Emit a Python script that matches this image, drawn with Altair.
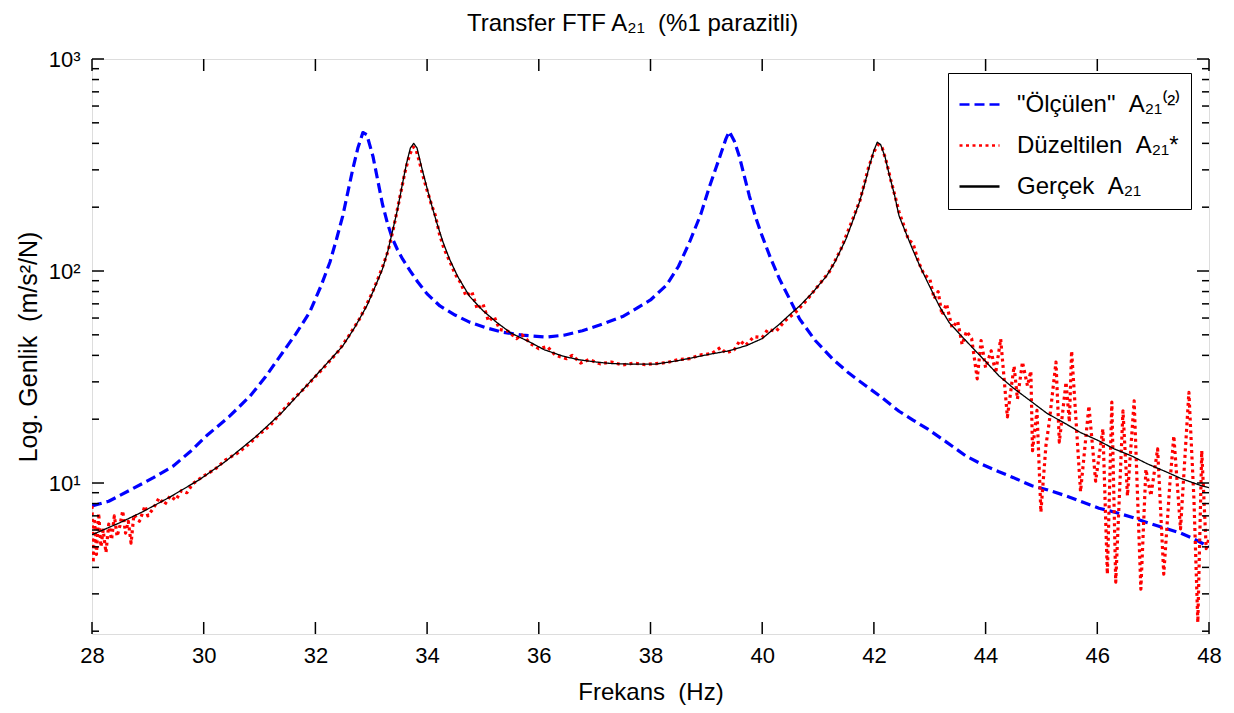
import altair as alt
import pandas as pd

FONT = "Liberation Sans, Arial, sans-serif"
SP2 = " \u00a0"  # double space that survives SVG whitespace collapsing

W, H = 1117, 575

title_text = "Transfer FTF A₂₁" + SP2 + "(%1 parazitli)"
series_names = ['"Ölçülen"' + SP2 + 'A₂₁⁽²⁾', 'Düzeltilen' + SP2 + 'A₂₁*', 'Gerçek' + SP2 + 'A₂₁']
series_colors = ["#0000ff", "#ff0000", "#000000"]
series_dash = [[10, 5], [3, 3.5], [1, 0]]
series_width = [3.2, 3.2, 1.3]

# "Ölçülen" (measured) curve
olc_f = [28.0, 28.3, 28.73, 29.1, 29.45, 29.75, 30.05, 30.45, 30.83, 31.1, 31.42, 31.65,
         31.9, 32.1, 32.26, 32.38, 32.49, 32.58, 32.67, 32.76, 32.85, 32.92, 33.03, 33.12,
         33.2, 33.29, 33.38, 33.47, 33.56, 33.7, 33.83, 34.0, 34.23, 34.5, 34.76, 35.05,
         35.35, 35.7, 36.14, 36.45, 36.78, 37.09, 37.5, 37.68, 38.0, 38.29, 38.5, 38.7,
         38.9, 39.06, 39.17, 39.27, 39.35, 39.41, 39.5, 39.59, 39.68, 39.77, 39.88, 40.0,
         40.15, 40.31, 40.5, 40.67, 40.95, 41.26, 41.55, 41.86, 42.15, 42.45, 42.7, 42.96,
         43.3, 43.65, 43.95, 44.24, 44.5, 44.83, 45.1, 45.44, 45.7, 46.03, 46.3, 46.62,
         46.9, 47.23, 47.5, 47.7, 47.94, 48.0]
olc_v = [7.8, 8.2, 9.4, 10.6, 12.0, 14.0, 16.7, 20.5, 25.7, 31.5, 41.5, 50.5,
         64.1, 85, 110, 142, 182, 235, 303, 380, 450, 440, 348, 265,
         207, 168, 142, 126, 114, 100, 89, 78, 68.4, 62, 57.4, 54,
         51.5, 49.8, 48.8, 49.8, 52.3, 55.6, 61.0, 65.0, 73, 86, 105, 137,
         185, 252, 305, 364, 420, 455, 410, 348, 280, 226, 180, 146,
         115, 91.6, 73, 59.4, 47, 38.5, 33, 28.7, 25.2, 21.8, 19.8, 18.0,
         15.6, 13.4, 12.2, 11.3, 10.6, 9.7, 9.3, 8.7, 8.2, 7.6, 7.3, 6.9,
         6.5, 6.1, 5.8, 5.5, 5.1, 5.0]

# "Düzeltilen" (corrected) curve
duz_f = [28.0, 28.02, 28.05, 28.08, 28.12, 28.16, 28.2, 28.25, 28.3, 28.35, 28.4, 28.45,
         28.5, 28.55, 28.6, 28.65, 28.7, 28.75, 28.85, 28.95, 29.0, 29.1, 29.2, 29.3,
         29.4, 29.5, 29.6, 29.7, 29.8, 30.0, 30.2, 30.4, 30.6, 30.8, 31.0, 31.2,
         31.4, 31.6, 31.8, 32.0, 32.2, 32.4, 32.6, 32.8, 33.0, 33.1, 33.2, 33.3,
         33.4, 33.5, 33.6, 33.68, 33.75, 33.8, 33.86, 33.92, 34.0, 34.08, 34.15, 34.22,
         34.3, 34.4, 34.5, 34.6, 34.7, 34.8, 34.9, 35.0, 35.1, 35.2, 35.3, 35.45,
         35.6, 35.7, 35.85, 36.0, 36.15, 36.3, 36.5, 36.6, 36.75, 36.9, 37.1, 37.3,
         37.5, 37.7, 37.9, 38.1, 38.3, 38.5, 38.7, 38.9, 39.1, 39.25, 39.35, 39.5,
         39.6, 39.7, 39.85, 40.0, 40.1, 40.25, 40.4, 40.6, 40.8, 41.0, 41.2, 41.4,
         41.6, 41.75, 41.9, 42.0, 42.08, 42.15, 42.22, 42.3, 42.38, 42.45, 42.55, 42.62,
         42.7, 42.8, 42.9, 43.0, 43.08, 43.15, 43.22, 43.3, 43.4, 43.5, 43.58, 43.66,
         43.75, 43.85, 43.92, 44.0, 44.1, 44.18, 44.27, 44.39, 44.51, 44.57, 44.66, 44.75,
         44.81, 44.84, 44.92, 44.99, 45.08, 45.14, 45.26, 45.32, 45.44, 45.5, 45.54, 45.7,
         45.85, 45.97, 46.1, 46.18, 46.26, 46.33, 46.46, 46.54, 46.66, 46.78, 46.87, 46.96,
         47.08, 47.19, 47.3, 47.37, 47.49, 47.64, 47.73, 47.8, 47.87, 47.95, 48.0]
duz_v = [7.8, 4.2, 6.6, 4.6, 7.2, 5.0, 6.0, 4.7, 6.4, 5.4, 7.0, 5.6,
         6.3, 7.4, 5.8, 6.6, 5.2, 7.1, 6.6, 7.8, 7.0, 7.6, 8.5, 7.9,
         8.7, 8.3, 9.2, 9.0, 9.9, 10.8, 11.6, 12.9, 13.8, 15.2, 17.0, 18.8,
         21.8, 24.8, 27.9, 31.8, 36.2, 41.5, 49.5, 60, 77, 89, 104, 124,
         160, 215, 290, 350, 385, 375, 330, 285, 240, 205, 182, 150,
         128, 112, 97, 88, 76, 80, 66, 70, 58, 61, 53, 52,
         48, 50, 45.5, 43, 44, 40, 38.6, 40, 36.8, 38.2, 36.5, 37.2,
         36.0, 36.8, 36.2, 36.6, 37.0, 38.2, 38.6, 40.2, 40.8, 43.5, 41.0, 42.5,
         47, 44.5, 49, 48.5, 53, 52, 58, 64, 73, 85, 99, 125,
         170, 215, 305, 365, 395, 380, 330, 270, 225, 190, 160, 140,
         135, 110, 96, 92, 74, 80, 62, 70, 54, 58, 45, 52,
         48, 31, 47, 35, 42, 33, 47.8, 20.5, 35.6, 24.9, 37.2, 28.7,
         33.7, 14.2, 22, 7.3, 15.0, 19.4, 37.2, 15.6, 29.9, 19.4, 42.0, 9.1,
         23.1, 10.2, 18, 3.72, 24.1, 3.41, 21.9, 8.7, 24.4, 3.16, 11.6, 8.7,
         14.5, 3.72, 10, 16.7, 6.07, 26.8, 8.4, 2.2, 14.2, 4.9, 5.5]

# "Gerçek" (true) curve
ger_f = [28.0, 28.5, 28.9, 29.4, 29.93, 30.4, 30.95, 31.4, 31.9, 32.2, 32.49, 32.7,
         32.92, 33.05, 33.2, 33.3, 33.39, 33.47, 33.55, 33.63, 33.7, 33.76, 33.82, 33.9,
         33.99, 34.08, 34.17, 34.28, 34.4, 34.55, 34.76, 35.0, 35.24, 35.5, 35.84, 36.1,
         36.43, 36.7, 37.03, 37.3, 37.62, 38.1, 38.5, 39.06, 39.4, 39.72, 40.0, 40.31,
         40.5, 40.67, 40.9, 41.15, 41.3, 41.5, 41.62, 41.74, 41.84, 41.92, 42.0, 42.06,
         42.12, 42.2, 42.28, 42.37, 42.45, 42.57, 42.69, 42.82, 42.96, 43.17, 43.35, 43.58,
         43.8, 44.01, 44.24, 44.5, 44.83, 45.1, 45.44, 45.7, 46.03, 46.3, 46.62, 46.9,
         47.23, 47.5, 47.87, 48.0]
ger_v = [5.7, 6.5, 7.3, 8.6, 10.4, 12.7, 16.7, 21.5, 29.9, 36.5, 44.3, 54,
         68.4, 82, 102, 125, 158, 195, 251, 320, 380, 400, 380, 310,
         251, 205, 170, 138, 114, 94, 76, 65, 57.4, 51, 46.2, 42.5,
         39.7, 38.2, 37.2, 36.6, 36.4, 36.4, 37.8, 40.5, 42, 44.5, 48, 56.2,
         62.5, 68.4, 79, 94.6, 110, 141.6, 172, 211, 260, 313, 370, 405,
         395, 345, 281, 228, 182, 152, 127, 106, 88.7, 68.4, 57, 49,
         42.5, 37.2, 32, 28, 24.1, 21.3, 19.0, 17.3, 15.8, 14.5, 13.4, 12.3,
         11.3, 10.5, 9.7, 9.5]

x_ticks = [28, 30, 32, 34, 36, 38, 40, 42, 44, 46, 48]
y_major = [10, 100, 1000]
y_minor = [2, 3, 4, 5, 6, 7, 8, 9, 20, 30, 40, 50, 60, 70, 80, 90,
           200, 300, 400, 500, 600, 700, 800, 900]

rows = []
for name, fs, vs in zip(series_names, [olc_f, duz_f, ger_f], [olc_v, duz_v, ger_v]):
    for f, v in zip(fs, vs):
        rows.append({"f": f, "v": v, "s": name})
df = pd.DataFrame(rows)

xscale = alt.Scale(domain=[28, 48], nice=False, zero=False)
yscale = alt.Scale(type="log", domain=[1.94, 1000], nice=False)

leg = alt.Legend(title=None, orient="none", legendX=856, legendY=14, symbolType="stroke",
                 symbolSize=1600, symbolStrokeWidth=2.6, labelFont=FONT, labelFontSize=24,
                 labelColor="black", padding=10, rowPadding=7, labelOffset=16,
                 strokeColor="black", fillColor="white", labelLimit=500, cornerRadius=0)

enc_color = alt.Color("s:N", scale=alt.Scale(domain=series_names, range=series_colors), legend=leg)
enc_dash = alt.StrokeDash("s:N", scale=alt.Scale(domain=series_names, range=series_dash), legend=leg)

x_axis = alt.Axis(values=x_ticks, format="d", grid=False, domain=False, ticks=False,
                  labelFont=FONT, labelFontSize=22, labelColor="black", labelPadding=11,
                  labelFlush=False,
                  title="Frekans" + SP2 + "(Hz)", titleFont=FONT, titleFontSize=24,
                  titleColor="black", titleFontWeight="normal", titleY=65,
                  titleBaseline="alphabetic")
y_axis = alt.Axis(values=y_major, grid=False, domain=False, ticks=False, labelFlush=False,
                  labelExpr="datum.value == 10 ? '10¹' : datum.value == 100 ? '10²' : '10³'",
                  labelFont=FONT, labelFontSize=22, labelColor="black", labelPadding=12,
                  title="Log. Genlik" + SP2 + "(m/s²/N)", titleFont=FONT, titleFontSize=25,
                  titleColor="black", titleFontWeight="normal", titleX=-64, titleY=H / 2,
                  titleBaseline="middle", titleAngle=-90, titleAlign="center")

layers = []
for i, name in enumerate(series_names):
    layers.append(
        alt.Chart(df).transform_filter(alt.datum.s == name)
        .mark_line(clip=True, strokeCap="butt", strokeJoin="round", strokeWidth=series_width[i])
        .encode(
            x=alt.X("f:Q", scale=xscale, axis=x_axis),
            y=alt.Y("v:Q", scale=yscale, axis=y_axis),
            color=enc_color, strokeDash=enc_dash,
        )
    )

xt = pd.DataFrame({"f": x_ticks})
ymaj = pd.DataFrame({"v": y_major})
ymin = pd.DataFrame({"v": y_minor})
tick_style = dict(color="black", strokeWidth=1.5)

tick_layers = [
    alt.Chart(xt).mark_rule(**tick_style).encode(
        x=alt.X("f:Q", scale=xscale, axis=x_axis), y=alt.value(H), y2=alt.value(H - 12)),
    alt.Chart(xt).mark_rule(**tick_style).encode(
        x=alt.X("f:Q", scale=xscale, axis=x_axis), y=alt.value(0), y2=alt.value(12)),
    alt.Chart(ymaj).mark_rule(**tick_style).encode(
        y=alt.Y("v:Q", scale=yscale, axis=y_axis), x=alt.value(0), x2=alt.value(12)),
    alt.Chart(ymaj).mark_rule(**tick_style).encode(
        y=alt.Y("v:Q", scale=yscale, axis=y_axis), x=alt.value(W - 12), x2=alt.value(W)),
    alt.Chart(ymin).mark_rule(**tick_style).encode(
        y=alt.Y("v:Q", scale=yscale, axis=y_axis), x=alt.value(0), x2=alt.value(7)),
    alt.Chart(ymin).mark_rule(**tick_style).encode(
        y=alt.Y("v:Q", scale=yscale, axis=y_axis), x=alt.value(W - 7), x2=alt.value(W)),
]

title_layer = alt.Chart(pd.DataFrame({"t": [title_text]})).mark_text(
    font=FONT, fontSize=24, color="black", align="center", baseline="alphabetic"
).encode(text="t:N", x=alt.value(W / 2 - 18), y=alt.value(-28))

chart = alt.layer(*layers, *tick_layers, title_layer).properties(
    width=W, height=H,
    autosize=alt.AutoSizeParams(type="none"),
    padding={"left": 84, "top": 51, "right": 16, "bottom": 71},
).configure_view(stroke="black", strokeWidth=1.5).configure(background="white")

chart.save("out.html", embed_options={"renderer": "svg", "actions": False})
